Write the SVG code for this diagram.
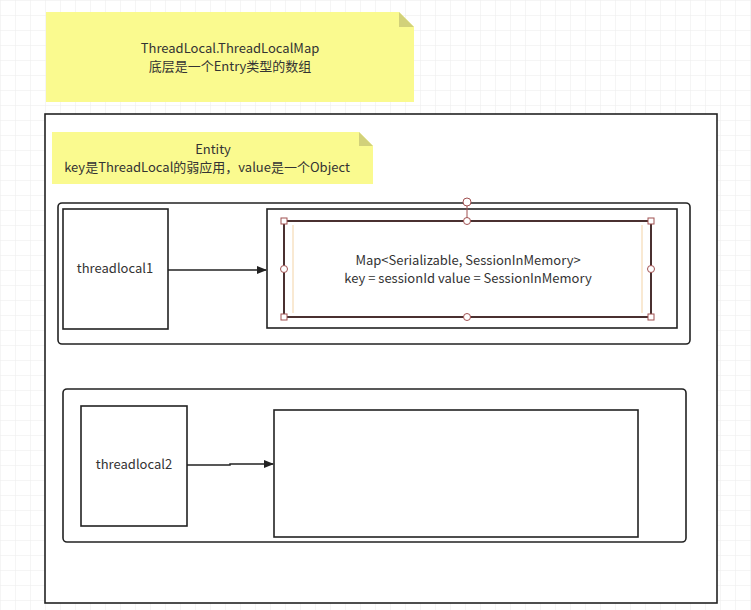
<svg xmlns="http://www.w3.org/2000/svg" width="751" height="610" viewBox="0 0 751 610">
<defs>
<pattern id="grid" width="15" height="15" patternUnits="userSpaceOnUse"><path d="M15 0H0V15" fill="none" stroke="#ececec" stroke-width="1"/></pattern>
<marker id="ar" markerWidth="10" markerHeight="8" refX="9" refY="4" orient="auto" markerUnits="userSpaceOnUse"><path d="M0 0L10 4L0 8z" fill="#222"/></marker>
<style>
text{font-family:"Microsoft YaHei","Noto Sans CJK SC","Noto Sans",sans-serif;font-size:13px;fill:#333;text-anchor:middle}
.box{fill:#fff;stroke:#222;stroke-width:1.6}
.note{fill:#fafa8f}
.fold{fill:#d2d17a}
.h{fill:#fff;stroke:#a05050;stroke-width:1}
</style>
</defs>
<rect width="751" height="610" fill="#fff"/>
<rect width="751" height="610" fill="url(#grid)"/>
<g id="note1"><path class="note" d="M46 12H399L414 27V102H46z"/><path class="fold" d="M399 12L414 27H399z"/><text x="230" y="53">ThreadLocal.ThreadLocalMap</text><text x="230" y="71">底层是一个Entry类型的数组</text></g>
<g id="container"><rect class="box" x="45" y="114" width="672" height="489"/></g>
<g id="note2"><path class="note" d="M52 132H359L373 146V184H52z"/><path class="fold" d="M359 132L373 146H359z"/><text x="213" y="154">Entity</text><text x="207" y="172">key是ThreadLocal的弱应用，value是一个Object</text></g>
<g id="row1"><rect class="box" x="58" y="203" width="632" height="141" rx="4"/></g>
<g id="threadlocal1"><rect class="box" x="63" y="209" width="105" height="120"/><text x="115" y="273">threadlocal1</text></g>
<g id="map"><rect class="box" x="267" y="209" width="410" height="119"/>
<rect x="284" y="221" width="367" height="96" fill="#fff" stroke="#4a3030" stroke-width="2"/>
<path d="M293 225V313M642 225V313" fill="none" stroke="#f0c890" stroke-width="0.8"/>
<text x="468" y="265">Map&lt;Serializable, SessionInMemory&gt;</text><text x="468" y="283">key = sessionId  value = SessionInMemory</text>
<line x1="467" y1="202" x2="467" y2="221" stroke="#a05050"/>
<circle class="h" cx="467" cy="202" r="4"/>
<rect class="h" x="281" y="218" width="6" height="6"/><rect class="h" x="648" y="218" width="6" height="6"/><rect class="h" x="281" y="314" width="6" height="6"/><rect class="h" x="648" y="314" width="6" height="6"/>
<circle class="h" cx="467" cy="221" r="3.5"/><circle class="h" cx="467" cy="317" r="3.5"/><circle class="h" cx="284" cy="269" r="3.5"/><circle class="h" cx="651" cy="269" r="3.5"/>
</g>
<g id="row2"><rect class="box" x="63" y="389" width="623" height="153" rx="4"/></g>
<g id="threadlocal2"><rect class="box" x="81" y="406" width="106" height="120"/><text x="134" y="469">threadlocal2</text></g>
<g id="empty"><rect class="box" x="274" y="410" width="364" height="127"/></g>
<g id="connectors" fill="none" stroke="#222" stroke-width="1.5">
<path d="M168 270H266" marker-end="url(#ar)"/>
<path d="M187 465H230V464H273" marker-end="url(#ar)"/>
</g>
</svg>
